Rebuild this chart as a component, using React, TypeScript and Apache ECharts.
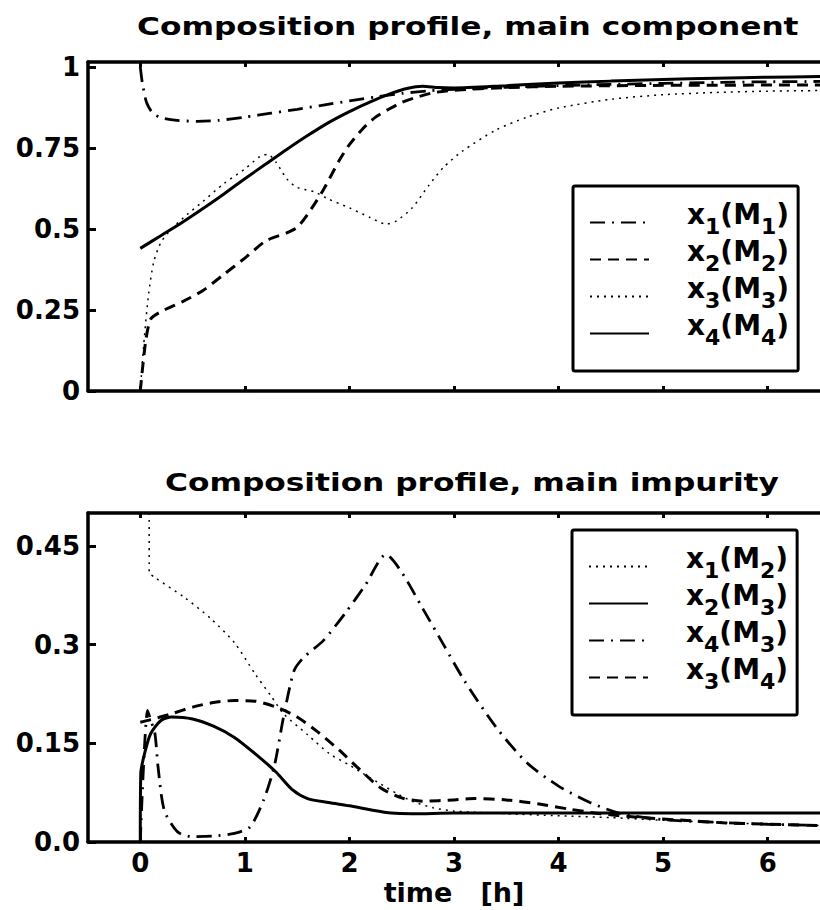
import React, { useEffect, useRef } from "react";
import * as echarts from "echarts";

// ---------- texts & ticks ----------
const topTitle = "Composition profile, main component";
const bottomTitle = "Composition profile, main impurity";
const xLabel = "time   [h]";
const xTicks = [0, 1, 2, 3, 4, 5, 6];
const topYTicks = [0, 0.25, 0.5, 0.75, 1];
const bottomYTicks = [0, 0.15, 0.3, 0.45];

const topNames = ["x1(M1)", "x2(M2)", "x3(M3)", "x4(M4)"];
const bottomNames = ["x1(M2)", "x2(M3)", "x4(M3)", "x3(M4)"];

// ---------- top plot: main component ----------
const x1M1: [number, number][] = [
  [0, 1.0], [0.02, 0.95], [0.06, 0.89], [0.12, 0.857], [0.2, 0.843], [0.35, 0.835],
  [0.55, 0.832], [0.75, 0.835], [1.0, 0.845], [1.25, 0.857], [1.5, 0.869], [1.75, 0.882],
  [2.0, 0.895], [2.25, 0.907], [2.5, 0.918], [2.75, 0.926], [3.0, 0.931], [3.5, 0.937],
  [4.0, 0.942], [4.5, 0.946], [5.0, 0.949], [5.5, 0.952], [6.0, 0.954], [6.5, 0.955],
];
const x2M2: [number, number][] = [
  [0, 0], [0.05, 0.15], [0.1, 0.222], [0.2, 0.245], [0.4, 0.275], [0.6, 0.31], [0.8, 0.36],
  [1.0, 0.41], [1.2, 0.463], [1.4, 0.488], [1.5, 0.505], [1.6, 0.545], [1.75, 0.62],
  [1.9, 0.71], [2.0, 0.76], [2.13, 0.81], [2.25, 0.845], [2.38, 0.87], [2.5, 0.89],
  [2.63, 0.905], [2.8, 0.92], [3.0, 0.928], [3.5, 0.936], [4.0, 0.94], [5.0, 0.943], [6.5, 0.944],
];
const x3M3: [number, number][] = [
  [0, 0], [0.04, 0.17], [0.08, 0.3], [0.13, 0.4], [0.2, 0.46], [0.3, 0.5], [0.45, 0.545],
  [0.6, 0.585], [0.8, 0.64], [1.0, 0.685], [1.15, 0.725], [1.22, 0.73], [1.3, 0.705],
  [1.4, 0.655], [1.5, 0.628], [1.66, 0.615], [1.8, 0.592], [2.0, 0.565], [2.2, 0.535],
  [2.35, 0.515], [2.45, 0.525], [2.6, 0.565], [2.76, 0.635], [2.9, 0.69], [3.08, 0.74],
  [3.4, 0.805], [3.7, 0.845], [4.0, 0.873], [4.5, 0.9], [5.0, 0.914], [5.5, 0.921],
  [6.0, 0.925], [6.5, 0.927],
];
const x4M4: [number, number][] = [
  [0, 0.44], [0.2, 0.48], [0.4, 0.52], [0.6, 0.563], [0.8, 0.608], [1.0, 0.655], [1.2, 0.7],
  [1.4, 0.745], [1.6, 0.788], [1.8, 0.828], [2.0, 0.862], [2.2, 0.892], [2.4, 0.918],
  [2.55, 0.933], [2.7, 0.94], [2.85, 0.936], [3.0, 0.935], [3.5, 0.942], [4.0, 0.95],
  [4.5, 0.956], [5.0, 0.961], [5.5, 0.965], [6.0, 0.968], [6.5, 0.97],
];

// ---------- bottom plot: main impurity ----------
const x1M2: [number, number][] = [
  [0.085, 0.5], [0.085, 0.41], [0.14, 0.402], [0.42, 0.372], [0.67, 0.34], [0.9, 0.303],
  [1.1, 0.255], [1.25, 0.222], [1.37, 0.195], [1.6, 0.163], [1.81, 0.134], [2.0, 0.117],
  [2.13, 0.104], [2.3, 0.088], [2.45, 0.074], [2.6, 0.062], [2.8, 0.052], [3.0, 0.047],
  [3.5, 0.043], [4.0, 0.04], [4.5, 0.037], [5.0, 0.033], [5.5, 0.03], [6.0, 0.027], [6.5, 0.025],
];
const x2M3: [number, number][] = [
  [0, 0], [0.005, 0.105], [0.05, 0.14], [0.1, 0.165], [0.2, 0.185], [0.3, 0.19], [0.5, 0.187],
  [0.7, 0.176], [0.9, 0.159], [1.1, 0.134], [1.3, 0.106], [1.45, 0.08], [1.6, 0.066],
  [1.8, 0.06], [2.0, 0.055], [2.2, 0.049], [2.4, 0.044], [2.6, 0.043], [3.0, 0.044],
  [4.0, 0.044], [5.0, 0.044], [6.5, 0.044],
];
const x4M3: [number, number][] = [
  [0, 0], [0.07, 0.2], [0.1, 0.185], [0.14, 0.165], [0.17, 0.114], [0.23, 0.048], [0.36, 0.015],
  [0.5, 0.008], [0.7, 0.009], [0.9, 0.013], [1.05, 0.023], [1.18, 0.064], [1.28, 0.114],
  [1.37, 0.19], [1.47, 0.26], [1.56, 0.28], [1.75, 0.306], [1.97, 0.35], [2.15, 0.39],
  [2.35, 0.437], [2.5, 0.41], [2.7, 0.355], [2.9, 0.3], [3.1, 0.245], [3.4, 0.175],
  [3.7, 0.12], [4.0, 0.085], [4.3, 0.06], [4.6, 0.043], [5.0, 0.034], [5.5, 0.03],
  [6.0, 0.027], [6.5, 0.025],
];
const x3M4: [number, number][] = [
  [0, 0.182], [0.1, 0.186], [0.3, 0.195], [0.5, 0.205], [0.7, 0.212], [0.9, 0.215],
  [1.1, 0.214], [1.3, 0.205], [1.5, 0.19], [1.7, 0.167], [1.9, 0.14], [2.1, 0.11],
  [2.3, 0.082], [2.5, 0.067], [2.7, 0.062], [3.0, 0.064], [3.2, 0.066], [3.5, 0.064],
  [3.8, 0.058], [4.1, 0.05], [4.4, 0.043], [4.8, 0.037], [5.2, 0.033], [5.6, 0.029],
  [6.0, 0.027], [6.5, 0.025],
];

const FONT = "'DejaVu Sans', sans-serif";
const DASHDOT = [15, 7, 2, 7];
const DASHED = [11, 7];
const DOTTED = [2, 5];

const legendFormatter = (name: string) => {
  const m = name.match(/^x(\d)\(M(\d)\)$/);
  if (!m) return name;
  return `{m|x}{s|${m[1]}}{m|(M}{s|${m[2]}}{m|)}`;
};

const legendRich = {
  m: { fontFamily: FONT, fontWeight: "bold", fontSize: 28, color: "#000", verticalAlign: "top" },
  s: {
    fontFamily: FONT,
    fontWeight: "bold",
    fontSize: 22,
    lineHeight: 45,
    padding: [0, 0, 8, 0],
    color: "#000",
    verticalAlign: "bottom",
  },
};

function makeLegend(names: string[], left: number, top: number) {
  return {
    data: names,
    orient: "vertical",
    left,
    top,
    padding: [14, 9, 15, 16],
    itemGap: -8,
    itemWidth: 59,
    itemHeight: 14,
    borderColor: "#000",
    borderWidth: 3,
    borderRadius: 2,
    selectedMode: false,
    formatter: legendFormatter,
    itemStyle: { opacity: 0 },
    textStyle: { padding: [0, 0, 0, 33], rich: legendRich },
  };
}

function line(name: string, data: [number, number][], type: any, width: number, gi: number) {
  return {
    type: "line",
    name,
    data,
    xAxisIndex: gi * 2,
    yAxisIndex: gi,
    symbol: "none",
    showSymbol: false,
    smooth: 0.25,
    lineStyle: { color: "#000", width, type },
    itemStyle: { color: "#000" },
  };
}

function xAxes(gi: number) {
  const common = {
    type: "value",
    gridIndex: gi,
    min: -0.5,
    max: 6.5,
    splitLine: { show: false },
    axisLine: { onZero: false, lineStyle: { color: "#000", width: 3.5 } },
    axisTick: { inside: true, length: 5, lineStyle: { color: "#000", width: 3 }, customValues: xTicks },
  };
  return [
    {
      ...common,
      position: "bottom",
      name: gi === 1 ? xLabel : "",
      nameLocation: "middle",
      nameGap: 37,
      nameTextStyle: { fontFamily: FONT, fontWeight: "bold", fontSize: 27, color: "#000" },
      axisLabel: {
        show: gi === 1,
        customValues: xTicks,
        margin: 8,
        fontFamily: FONT,
        fontWeight: "bold",
        fontSize: 26,
        color: "#000",
      },
    },
    { ...common, position: "top", axisLabel: { show: false } },
  ];
}

function yAxis(gi: number, max: number, ticks: number[], fmt: (v: number) => string) {
  return {
    type: "value",
    gridIndex: gi,
    min: 0,
    max,
    position: "left",
    splitLine: { show: false },
    axisLine: { onZero: false, lineStyle: { color: "#000", width: 3.5 } },
    axisTick: { inside: true, length: 8, lineStyle: { color: "#000", width: 3 }, customValues: ticks },
    axisLabel: {
      customValues: ticks,
      formatter: fmt,
      margin: 8,
      fontFamily: FONT,
      fontWeight: "bold",
      fontSize: 26,
      color: "#000",
    },
  };
}

export default function App() {
  const ref = useRef<HTMLDivElement>(null);
  useEffect(() => {
    if (!ref.current) return;
    const chart = echarts.init(ref.current, null, { renderer: "svg" });
    chart.setOption({
      animation: false,
      backgroundColor: "#fff",
      grid: [
        { left: 88, right: -8, top: 62, height: 329 },
        { left: 88, right: -8, top: 513, height: 329 },
      ],
      xAxis: [...xAxes(0), ...xAxes(1)],
      yAxis: [
        yAxis(0, 1.015, topYTicks, (v) => String(v)),
        yAxis(1, 0.5, bottomYTicks, (v) => (v === 0 ? "0.0" : String(v))),
      ],
      legend: [makeLegend(topNames, 573, 186), makeLegend(bottomNames, 572, 530)],
      graphic: [
        {
          type: "text",
          x: 137,
          y: 27,
          scaleX: 1.25,
          style: {
            text: topTitle,
            font: `bold 25px ${FONT}`,
            fill: "#000",
            align: "left",
            verticalAlign: "middle",
          },
        },
        {
          type: "text",
          x: 165,
          y: 483,
          scaleX: 1.25,
          style: {
            text: bottomTitle,
            font: `bold 25px ${FONT}`,
            fill: "#000",
            align: "left",
            verticalAlign: "middle",
          },
        },
      ],
      series: [
        line(topNames[0], x1M1, DASHDOT, 2.8, 0),
        line(topNames[1], x2M2, DASHED, 3, 0),
        line(topNames[2], x3M3, DOTTED, 1.5, 0),
        line(topNames[3], x4M4, "solid", 3, 0),
        line(bottomNames[0], x1M2, DOTTED, 1.5, 1),
        line(bottomNames[1], x2M3, "solid", 3, 1),
        line(bottomNames[2], x4M3, DASHDOT, 2.8, 1),
        line(bottomNames[3], x3M4, DASHED, 3, 1),
      ],
    });
    return () => chart.dispose();
  }, []);
  return (
    <div
      ref={ref}
      style={{ position: "absolute", left: 0, top: 0, width: 820, height: 910, background: "#fff" }}
    />
  );
}
